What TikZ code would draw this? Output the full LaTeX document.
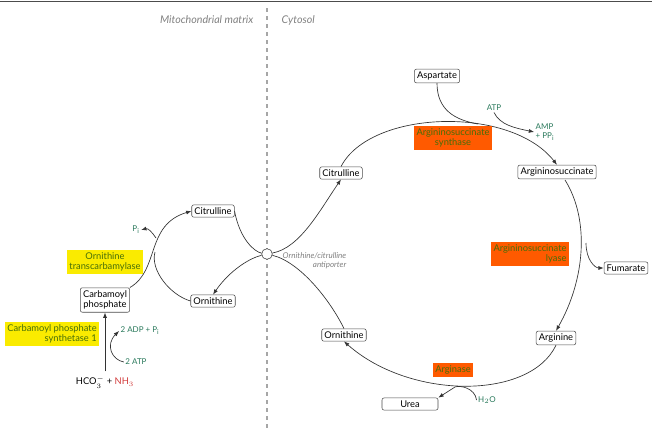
\documentclass[tikz,border=0pt]{standalone}
\usepackage{fontspec}
\setmainfont{Lato}
\usetikzlibrary{arrows.meta}
\definecolor{enzgreen}{RGB}{70,110,10}
\definecolor{molgreen}{RGB}{40,120,90}
\definecolor{orng}{RGB}{255,90,0}
\definecolor{yel}{RGB}{250,235,0}
\definecolor{nhred}{RGB}{210,60,60}
\tikzset{
  mol/.style={draw=black!70,rounded corners=1.5pt,fill=white,inner sep=2pt,font=\fontsize{7}{8}\selectfont},
  enz/.style={text=enzgreen,inner sep=2pt,font=\fontsize{7}{8}\selectfont,align=center},
  side/.style={text=molgreen,inner sep=1pt,font=\fontsize{6}{7}\selectfont},
  flow/.style={draw=black!80,line width=0.5pt},
  rxn/.style={flow,-{Latex[length=4pt,width=3pt]}}
}
\begin{document}
\begin{tikzpicture}[x=0.75pt,y=-0.75pt]
  \useasboundingbox (0,0) rectangle (652,429);
  \draw[black!70] (0,1) -- (652,1);
  \draw[gray!70,dashed,line width=0.8pt] (267,8) -- (267,429);
  \node[anchor=east,text=gray,font=\fontsize{8}{9}\itshape] at (258,20) {Mitochondrial matrix};
  \node[anchor=west,text=gray,font=\fontsize{8}{9}\itshape] at (277,20) {Cytosol};

  % mitochondria
  \node[mol] (mcit) at (213,211) {Citrulline};
  \node[mol] (morn) at (213,301) {Ornithine};
  \node[mol,align=center] (carb) at (105,300) {Carbamoyl\\phosphate};
  \node[draw=black!80,fill=white,circle,minimum size=8pt,inner sep=0pt] (anti) at (267,254) {};
  \node[anchor=north west,text=gray,align=right,font=\fontsize{6}{7}\itshape] (antilab) at (278,248) {Ornithine/citrulline\\antiporter};
  \node[enz,fill=yel] (otc) at (105,262) {Ornithine\\transcarbamylase};
  \node[enz,fill=yel,align=right] (cps) at (52,334) {Carbamoyl phosphate\\synthetase 1};
  \node[font=\fontsize{7}{8}\selectfont] (hco) at (105,382) {HCO$_3^-$ + \textcolor{nhred}{NH$_3$}};
  \node[side] (adp) at (140,331) {2 ADP + P$_\mathrm{i}$};
  \node[side] (atp) at (136,362) {2 ATP};
  \node[side] (pi) at (136,230) {P$_\mathrm{i}$};
  \coordinate (otcj) at (155,252);
  \coordinate (cpsj) at (108,346);

  % cytosol
  \node[mol] (asp) at (437,76) {Aspartate};
  \node[mol] (ccit) at (341,173) {Citrulline};
  \node[mol] (asuc) at (557,172) {Argininosuccinate};
  \node[mol] (fum) at (626,268) {Fumarate};
  \node[mol] (arg) at (556,338) {Arginine};
  \node[mol] (corn) at (344,335) {Ornithine};
  \node[mol,minimum width=42pt] (urea) at (410,404) {Urea};
  \node[side] (catp) at (494,108) {ATP};
  \node[side,align=left] (amp) at (545,132) {AMP\\+ PP$_\mathrm{i}$};
  \node[side] (water) at (487,400) {H$_2$O};
  \coordinate (aspj) at (478,124);
  \coordinate (fumj) at (586,243);
  \coordinate (ureaj) at (455,387);

  % mito connectors
  \draw[rxn] (carb.north east) .. controls (160,270) and (145,225) .. (mcit.west);
  \draw[flow] (morn.west) .. controls (170,295) and (150,270) .. (otcj);
  \draw[rxn] (156,238) .. controls (152,232) and (148,228) .. (pi.east);
  \draw[rxn] (hco.north) -- (carb.south);
  \draw[rxn] (atp.west) .. controls (112,360) and (105,345) .. (adp.west);
  \draw[flow] (mcit.east) .. controls (240,240) and (255,252) .. (anti);
  \draw[rxn] (anti) .. controls (250,258) and (230,270) .. (morn.north);

  % cytosol connectors
  \draw[rxn] (anti) .. controls (300,248) and (320,210) .. (ccit.south);
  \draw[flow] (anti) .. controls (300,262) and (330,300) .. (corn.north);
  \draw[rxn] (ccit.north) .. controls (370,110) and (510,105) .. (asuc.north);
  \draw[flow] (asp.south) .. controls (437,110) and (455,120) .. (aspj);
  \draw[rxn] (catp.south) .. controls (500,125) and (515,128) .. (amp.west);
  \draw[rxn] (565,180) .. controls (590,220) and (585,280) .. (arg.north);
  \draw[rxn] (fumj) .. controls (586,260) and (595,268) .. (fum.west);
  \draw[rxn] (arg.south) .. controls (530,400) and (410,400) .. (corn.south);
  \draw[rxn] (water.west) .. controls (475,388) and (460,385) .. (ureaj) -- (urea.north east);

  \node[enz,fill=orng] (ass) at (453,138) {Argininosuccinate\\synthase};
  \node[enz,fill=orng,align=right] (asl) at (530,254) {Argininosuccinate\\lyase};
  \node[enz,fill=orng] (arginase) at (453,370) {Arginase};
\end{tikzpicture}
\end{document}
